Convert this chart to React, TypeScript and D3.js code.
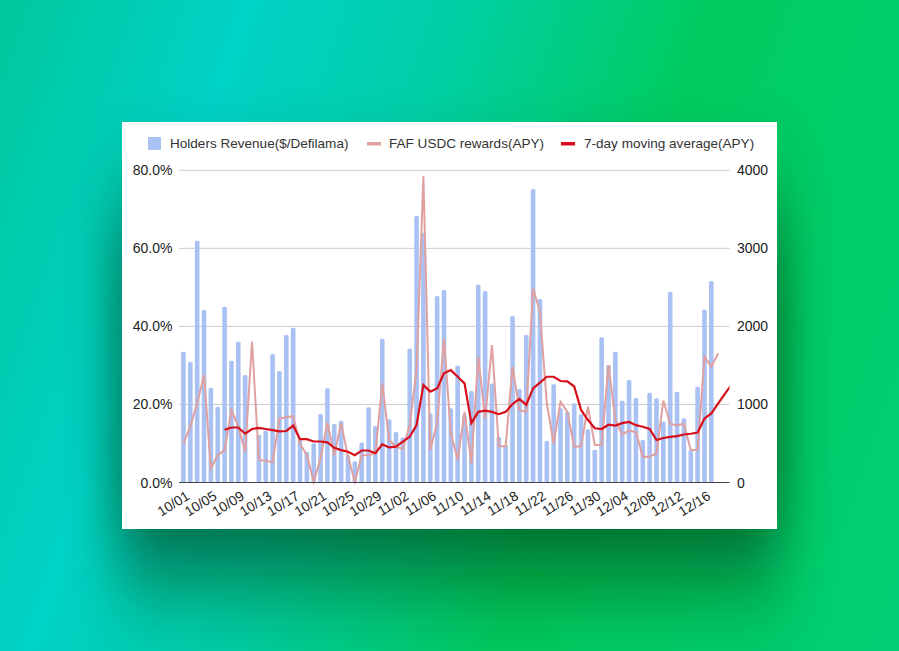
import { useEffect, useRef } from 'react'
import * as d3 from 'd3'

const W = 899
const H = 651

const dateLabels = ['10/01', '10/05', '10/09', '10/13', '10/17', '10/21', '10/25', '10/29', '11/02', '11/06', '11/10', '11/14', '11/18', '11/22', '11/26', '11/30', '12/04', '12/08', '12/12', '12/16']
const apyTicks = [0, 20, 40, 60, 80]
const revenueTicks = [0, 1000, 2000, 3000, 4000]

// daily values, index 0 = 10/01
const holdersRevenue = [
  1676, 1548, 3098, 2210, 1215, 971, 2252, 1561, 1804, 1377,
  0, 612, 665, 1646, 1428, 1889, 1983, 545, 395, 503,
  877, 1208, 749, 792, 352, 271, 514, 963, 724, 1842,
  809, 647, 578, 1716, 3414, 3200, 886, 2389, 2466, 950,
  1500, 870, 1172, 2538, 2453, 1270, 587, 480, 2133, 1198,
  1890, 3760, 2350, 532, 1258, 950, 907, 1014, 875, 683,
  420, 1860, 1505, 1676, 1048, 1313, 1082, 544, 1151, 1078,
  780, 2444, 1164, 822, 416, 1228, 2218, 2581,
]
const fafRewards = [
  10, 14.3, 20.3, 27.5, 3.6, 7, 8.3, 18.6, 14.3, 7.9,
  36.1, 5.8, 5.5, 5.2, 16.4, 16.7, 17, 10, 7, 0.2,
  6.2, 15.3, 7, 15.2, 6.6, 0.2, 7, 7, 7.5, 25.4,
  10.9, 9.2, 8.6, 14.7, 28.8, 78.5, 8.3, 15.2, 36.9, 12.6,
  5.8, 18.1, 4.9, 32.2, 16.4, 35.2, 9.3, 9.3, 29.7, 18.6,
  18.1, 49.7, 43.8, 20.3, 10, 20.7, 18.1, 9.2, 9.3, 19.4,
  9.6, 9.6, 30.1, 16, 12.3, 13.3, 12.9, 6.6, 6.6, 7.5,
  21, 15, 14.7, 15, 8.3, 8.3, 32.2, 29.7, 33.1,
]
// starts at index 6 (10/07)
const movingAverage = [
  13.5, 14.1, 14.1, 12.5, 13.7, 14, 13.7, 13.4, 13.1, 13.2,
  14.6, 11.1, 11.1, 10.5, 10.5, 10.3, 8.9, 8.3, 7.9, 7,
  8.2, 8.2, 7.5, 9.8, 9, 9.2, 10.5, 11.7, 14.7, 25,
  23.3, 24.1, 28, 28.8, 27.1, 25.4, 15.2, 18.1, 18.4, 18.1,
  17.5, 18.1, 20.1, 21.4, 19.9, 24.1, 25.6, 27.1, 27.1, 26,
  25.9, 24.6, 18.6, 16, 13.9, 13.7, 14.8, 14.6, 15.2, 15.5,
  14.7, 14.3, 13.7, 10.9, 11.4, 11.7, 11.9, 12.3, 12.5, 12.8,
  16.4, 17.7, 20.3, 22.8, 25.2,
]
const maStart = 6

const legendItems = [
  { label: 'Holders Revenue($/Defilama)', color: '#a9c1f3', kind: 'box', x: 148, tx: 170 },
  { label: 'FAF USDC rewards(APY)', color: '#e0a0a0', kind: 'line', x: 367, tx: 389 },
  { label: '7-day moving average(APY)', color: '#d60f1b', kind: 'line', x: 561, tx: 584 },
]

const font = 'Arial, "Liberation Sans", sans-serif'

export default function App() {
  const svgRef = useRef<SVGSVGElement>(null)

  useEffect(() => {
    if (!svgRef.current) return
    const svg = d3.select(svgRef.current)
    svg.selectAll('*').remove()

    const plot = { left: 179, right: 729.5, top: 170.3, bottom: 482.5 }
    const x = d3.scaleLinear().domain([-0.65, 79.65]).range([plot.left, plot.right])
    const yPct = d3.scaleLinear().domain([0, 80]).range([plot.bottom, plot.top])
    const yRev = d3.scaleLinear().domain([0, 4000]).range([plot.bottom, plot.top])

    const defs = svg.append('defs')
    const bg = defs.append('linearGradient').attr('id', 'bg-grad')
      .attr('gradientUnits', 'userSpaceOnUse')
      .attr('x1', 0).attr('y1', 0).attr('x2', 1004).attr('y2', 339)
    bg.append('stop').attr('offset', '0%').attr('stop-color', '#00c89c')
    bg.append('stop').attr('offset', '22%').attr('stop-color', '#00d2c6')
    bg.append('stop').attr('offset', '40%').attr('stop-color', '#00cfa8')
    bg.append('stop').attr('offset', '64%').attr('stop-color', '#00cc5f')
    bg.append('stop').attr('offset', '100%').attr('stop-color', '#00cf74')
    const blur = defs.append('filter').attr('id', 'card-shadow')
      .attr('filterUnits', 'userSpaceOnUse')
      .attr('x', -100).attr('y', -100).attr('width', W + 200).attr('height', H + 300)
    blur.append('feGaussianBlur').attr('stdDeviation', '26 52')
    defs.append('clipPath').attr('id', 'plot-clip').append('rect')
      .attr('x', plot.left).attr('y', plot.top - 5)
      .attr('width', plot.right - plot.left).attr('height', plot.bottom - plot.top + 10)

    svg.append('rect').attr('width', W).attr('height', H).attr('fill', 'url(#bg-grad)')
    svg.append('rect').attr('x', 118).attr('y', 205).attr('width', 663).attr('height', 365)
      .attr('fill', '#003a10').attr('opacity', 0.72).attr('filter', 'url(#card-shadow)')
    svg.append('rect').attr('x', 122).attr('y', 122).attr('width', 655).attr('height', 407).attr('fill', '#ffffff')

    // grid
    svg.append('g').selectAll('line').data(apyTicks.slice(1)).enter().append('line')
      .attr('x1', plot.left).attr('x2', plot.right)
      .attr('y1', d => yPct(d)).attr('y2', d => yPct(d))
      .attr('stroke', '#cccccc').attr('stroke-width', 1)

    // bars
    svg.append('g').selectAll('rect').data(holdersRevenue).enter().append('rect')
      .attr('x', (_, i) => x(i) - 2.3)
      .attr('y', d => yRev(d))
      .attr('width', 4.6)
      .attr('height', d => plot.bottom - yRev(d))
      .attr('rx', 1.5)
      .attr('fill', '#a9c1f3')

    const line = d3.line<number>().x((_, i) => x(i)).y(d => yPct(d))
    svg.append('path').datum(fafRewards)
      .attr('fill', 'none').attr('stroke', '#e0a0a0').attr('stroke-width', 2).attr('d', line)

    const maLine = d3.line<number>().x((_, i) => x(i + maStart)).y(d => yPct(d))
    svg.append('path').datum(movingAverage)
      .attr('clip-path', 'url(#plot-clip)')
      .attr('fill', 'none').attr('stroke', '#d60f1b').attr('stroke-width', 2.2).attr('d', maLine)

    // baseline
    svg.append('line').attr('x1', plot.left).attr('x2', plot.right)
      .attr('y1', plot.bottom).attr('y2', plot.bottom)
      .attr('stroke', '#444444').attr('stroke-width', 1)

    // left axis
    svg.append('g').selectAll('text').data(apyTicks).enter().append('text')
      .attr('x', 172.5).attr('y', d => yPct(d) + 5)
      .attr('text-anchor', 'end').attr('font-family', font).attr('font-size', 14).attr('fill', '#222222')
      .text(d => `${d.toFixed(1)}%`)

    // right axis
    svg.append('g').selectAll('text').data(revenueTicks).enter().append('text')
      .attr('x', 737).attr('y', d => yRev(d) + 5)
      .attr('font-family', font).attr('font-size', 14).attr('fill', '#222222')
      .text(d => d)

    // dates, one label every four days
    svg.append('g').selectAll('text').data(dateLabels).enter().append('text')
      .attr('transform', (_, i) => `translate(${x(i * 4) + 7},${plot.bottom + 16}) rotate(-32)`)
      .attr('text-anchor', 'end').attr('font-family', font).attr('font-size', 13.8).attr('fill', '#222222')
      .text(d => d)

    // legend
    const legend = svg.append('g')
    legendItems.forEach(item => {
      if (item.kind === 'box') {
        legend.append('rect').attr('x', item.x).attr('y', 137).attr('width', 13).attr('height', 13).attr('fill', item.color)
      } else {
        legend.append('rect').attr('x', item.x).attr('y', 142).attr('width', 14).attr('height', 3.5).attr('fill', item.color)
      }
      legend.append('text').attr('x', item.tx).attr('y', 148)
        .attr('font-family', font).attr('font-size', 13.55).attr('fill', '#333333')
        .text(item.label)
    })
  }, [])

  return (
    <svg ref={svgRef} width={W} height={H} viewBox={`0 0 ${W} ${H}`}
      style={{ position: 'fixed', left: 0, top: 0, display: 'block' }} />
  )
}
